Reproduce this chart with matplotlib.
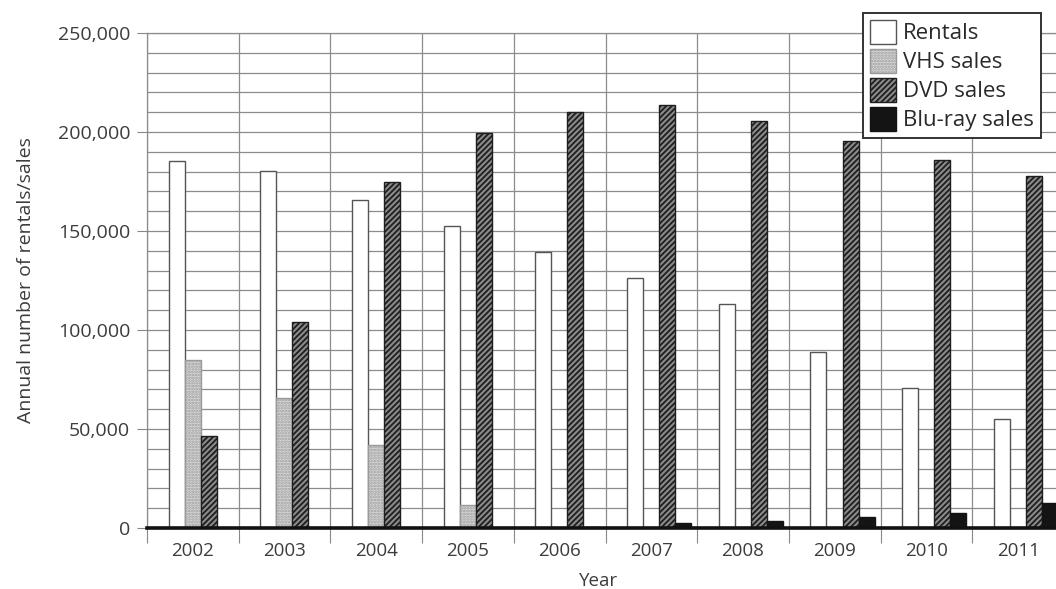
import numpy as np
from matplotlib import pyplot as plt
from matplotlib.ticker import FuncFormatter, MultipleLocator

years = ["2002", "2003", "2004", "2005", "2006", "2007", "2008", "2009", "2010", "2011"]
rentals = [185500, 180500, 165500, 152500, 139500, 126500, 113000, 89000, 70500, 55000]
vhs_sales = [85000, 65500, 42000, 11500, 0, 0, 0, 0, 0, 0]
dvd_sales = [46500, 104000, 175000, 199500, 210000, 213500, 205500, 195500, 186000, 178000]
bluray_sales = [0, 0, 0, 0, 500, 2400, 3700, 5700, 7800, 12800]

series = ["Rentals", "VHS sales", "DVD sales", "Blu-ray sales"]
values = [rentals, vhs_sales, dvd_sales, bluray_sales]
styles = [
    dict(facecolor="white", edgecolor="#555555", hatch=None),
    dict(facecolor="#dcdcdc", edgecolor="#9a9a9a", hatch="......"),
    dict(facecolor="#8a8a8a", edgecolor="#1e1e1e", hatch="//////"),
    dict(facecolor="#141414", edgecolor="#141414", hatch=None),
]

plt.rcParams["font.family"] = ["Open Sans", "DejaVu Sans"]
plt.rcParams["hatch.linewidth"] = 1.3

fig = plt.figure(figsize=(10.56, 5.89), dpi=100)
ax = fig.add_axes([147 / 1056, 61 / 589, 917 / 1056, 495 / 589])

x = np.arange(len(years))
w = 0.175
for i, (name, vals, st) in enumerate(zip(series, values, styles)):
    ax.bar(x + (i - 1.5) * w + 0.085, vals, w, label=name, linewidth=1.0,
           zorder=3, **st)

ax.set_xlim(-0.5, len(years) - 0.5)
ax.set_ylim(0, 250000)

ax.yaxis.set_major_locator(MultipleLocator(50000))
ax.yaxis.set_minor_locator(MultipleLocator(10000))
ax.yaxis.set_major_formatter(FuncFormatter(lambda v, p: f"{int(v):,}"))
ax.set_xticks(np.arange(len(years) + 1) - 0.5)
ax.set_xticklabels([])
ax.set_xticks(x, minor=True)
ax.set_xticklabels(years, minor=True)

ax.grid(True, which="both", axis="y", color="#8c8c8c", linewidth=0.9, zorder=0)
ax.grid(True, which="major", axis="x", color="#8c8c8c", linewidth=0.9, zorder=0)
ax.set_axisbelow(True)

ax.tick_params(axis="y", which="major", length=7, width=0.8, color="#888888",
               labelsize=14, labelcolor="#3c3c3c", pad=5)
ax.tick_params(axis="y", which="minor", length=0)
ax.tick_params(axis="x", which="major", length=11, width=0.8, color="#888888")
ax.tick_params(axis="x", which="minor", length=0, labelsize=13.5,
               labelcolor="#3c3c3c", pad=10)

for s in ["top", "right", "left"]:
    ax.spines[s].set_color("#8c8c8c")
    ax.spines[s].set_linewidth(0.9)
ax.spines["bottom"].set_color("#111111")
ax.spines["bottom"].set_linewidth(2.6)
ax.spines["bottom"].set_zorder(4)

ax.set_ylabel("Annual number of rentals/sales", fontsize=14, color="#3c3c3c")
ax.yaxis.set_label_coords(-0.122, 0.5)
ax.set_xlabel("Year", fontsize=13.5, color="#3c3c3c")
ax.xaxis.set_label_coords(0.492, -0.088)

leg = ax.legend(loc="upper left", bbox_to_anchor=(716 / 917, 1.04), fontsize=16,
                frameon=True, fancybox=False, edgecolor="#333333", framealpha=1,
                handlelength=1.2, handleheight=1.3, handletextpad=0.3,
                labelspacing=0.2, borderpad=0.3, borderaxespad=0,
                labelcolor="#2a2a2a")
leg.get_frame().set_linewidth(1.4)

fig.savefig("out.png", dpi=100)
